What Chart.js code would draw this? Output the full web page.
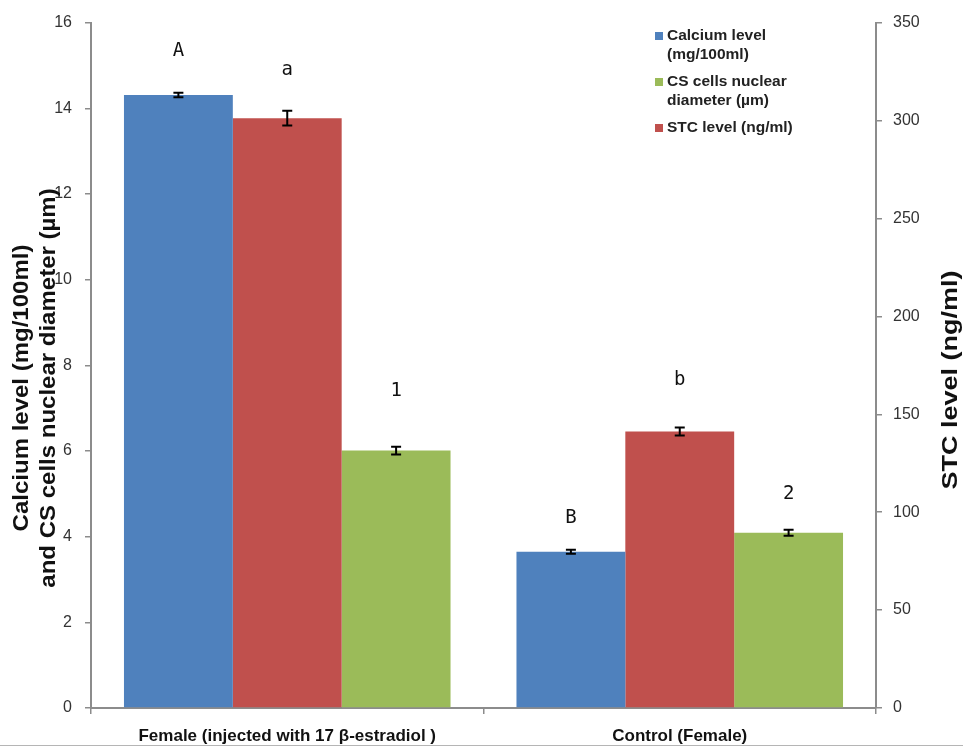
<!DOCTYPE html>
<html>
<head>
<meta charset="utf-8">
<script src="https://cdn.jsdelivr.net/npm/chart.js@4.4.1/dist/chart.umd.min.js"></script>
<style>
  html, body { margin: 0; padding: 0; background: #fff; }
  #wrap { position: relative; width: 963px; height: 748px; }
  #frame { position: absolute; left: 0; top: 745px; width: 963px; height: 1px; background: #b5b5b5; }
</style>
</head>
<body>
<div id="wrap">
  <canvas id="chart" width="963" height="748"></canvas>
  <div id="frame"></div>
</div>
<script>
// データ
const groups = ['Female (injected with 17 β-estradiol )', 'Control (Female)'];
const calcium = [14.31, 3.65];       // mg/100ml
const calciumErr = [0.05, 0.04];
const stc = [301.2, 141.2];          // ng/ml (右軸)
const stcErr = [3.8, 2.0];
const nuclear = [6.01, 4.09];        // µm
const nuclearErr = [0.09, 0.07];
const calciumLetters = ['A', 'B'];
const stcLetters = ['a', 'b'];
const nuclearLetters = ['1', '2'];

const BLUE = '#4F81BD';
const RED = '#C0504D';
const GREEN = '#9BBB59';
const AXIS = '#8c8c8c';
const SANS = '"Liberation Sans", Arial, sans-serif';

// エラーバー
const errorBars = {
  id: 'errorBars',
  afterDatasetsDraw(chart) {
    const ctx = chart.ctx;
    ctx.save();
    ctx.strokeStyle = '#000';
    ctx.lineWidth = 2;
    chart.data.datasets.forEach((ds, i) => {
      const meta = chart.getDatasetMeta(i);
      const scale = chart.scales[meta.yAxisID];
      meta.data.forEach((bar, j) => {
        const v = ds.data[j], e = ds.errors[j];
        const yTop = Math.min(scale.getPixelForValue(v + e), bar.y - 2);
        const yBot = Math.max(scale.getPixelForValue(v - e), bar.y + 2);
        ctx.beginPath();
        ctx.moveTo(bar.x, yTop); ctx.lineTo(bar.x, yBot);
        ctx.moveTo(bar.x - 5, yTop); ctx.lineTo(bar.x + 5, yTop);
        ctx.moveTo(bar.x - 5, yBot); ctx.lineTo(bar.x + 5, yBot);
        ctx.stroke();
      });
    });
    ctx.restore();
  }
};

// 有意差の文字
const letters = {
  id: 'letters',
  afterDatasetsDraw(chart) {
    const ctx = chart.ctx;
    ctx.save();
    ctx.font = '19px "DejaVu Sans Mono"';
    ctx.fillStyle = '#111';
    ctx.textAlign = 'center';
    ctx.textBaseline = 'middle';
    chart.data.datasets.forEach((ds, i) => {
      const meta = chart.getDatasetMeta(i);
      meta.data.forEach((bar, j) => {
        ctx.fillText(ds.letters[j], bar.x, bar.y - ds.letterGap[j]);
      });
    });
    ctx.restore();
  }
};

// 凡例（順番：カルシウム、核径、STC）
const sideLegend = {
  id: 'sideLegend',
  afterDraw(chart) {
    const ctx = chart.ctx;
    const items = [
      { ds: 0, lines: ['Calcium level', '(mg/100ml)'] },
      { ds: 2, lines: ['CS cells nuclear', 'diameter (µm)'] },
      { ds: 1, lines: ['STC level (ng/ml)'] }
    ];
    ctx.save();
    ctx.font = 'bold 15.5px ' + SANS;
    ctx.textBaseline = 'middle';
    let y = 36;
    items.forEach(it => {
      ctx.fillStyle = chart.data.datasets[it.ds].backgroundColor;
      ctx.fillRect(655, y - 4, 8, 8);
      ctx.fillStyle = '#222';
      it.lines.forEach((t, k) => {
        ctx.fillText(t, 667, y + k * 19);
      });
      y += it.lines.length * 19 + 8;
    });
    ctx.restore();
  }
};

// 軸タイトル
const axisTitles = {
  id: 'axisTitles',
  afterDraw(chart) {
    const ctx = chart.ctx;
    ctx.save();
    ctx.font = 'bold 24px ' + SANS;
    ctx.fillStyle = '#111';
    ctx.textAlign = 'center';
    ctx.textBaseline = 'middle';
    ctx.translate(22, 388);
    ctx.scale(0.9, 1);
    ctx.rotate(-Math.PI / 2);
    ctx.fillText('Calcium level (mg/100ml)', 0, 0);
    ctx.fillText('and CS cells nuclear diameter (µm)', 0, 30);
    ctx.restore();

    ctx.save();
    ctx.font = 'bold 27px ' + SANS;
    ctx.fillStyle = '#111';
    ctx.textAlign = 'center';
    ctx.textBaseline = 'middle';
    ctx.translate(951, 380);
    ctx.scale(0.85, 1);
    ctx.rotate(-Math.PI / 2);
    ctx.fillText('STC level (ng/ml)', 0, 0);
    ctx.restore();
  }
};

const ctx = document.getElementById('chart').getContext('2d');
const chart = new Chart(ctx, {
  type: 'bar',
  data: {
    labels: groups,
    datasets: [
      {
        label: 'Calcium level (mg/100ml)',
        data: calcium, errors: calciumErr, letters: calciumLetters, letterGap: [44, 34],
        backgroundColor: BLUE, yAxisID: 'y'
      },
      {
        label: 'STC level (ng/ml)',
        data: stc, errors: stcErr, letters: stcLetters, letterGap: [48, 51],
        backgroundColor: RED, yAxisID: 'y2'
      },
      {
        label: 'CS cells nuclear diameter (µm)',
        data: nuclear, errors: nuclearErr, letters: nuclearLetters, letterGap: [59, 39],
        backgroundColor: GREEN, yAxisID: 'y'
      }
    ]
  },
  options: {
    responsive: false,
    animation: false,
    layout: { padding: { top: 19, left: 0, right: 0, bottom: 0 } },
    datasets: {
      bar: { categoryPercentage: 0.832, barPercentage: 1.0 }
    },
    plugins: {
      legend: { display: false },
      tooltip: { enabled: false }
    },
    scales: {
      x: {
        grid: { drawOnChartArea: false, color: AXIS, tickLength: 6, lineWidth: 1.5 },
        border: { color: AXIS, width: 2 },
        ticks: {
          padding: 12,
          color: '#111',
          font: { family: SANS, size: 17, weight: 'bold' }
        },
        afterFit: s => { s.height = 40; }
      },
      y: {
        position: 'left',
        min: 0, max: 16,
        ticks: {
          stepSize: 2, padding: 13, color: '#333',
          font: { family: SANS, size: 16 }
        },
        grid: { drawOnChartArea: false, color: AXIS, tickLength: 6, lineWidth: 1.5 },
        border: { color: AXIS, width: 2 },
        afterFit: s => { s.width = 91; }
      },
      y2: {
        position: 'right',
        min: 0, max: 350,
        ticks: {
          stepSize: 50, padding: 11, color: '#333',
          font: { family: SANS, size: 16 }
        },
        grid: { drawOnChartArea: false, color: AXIS, tickLength: 6, lineWidth: 1.5 },
        border: { color: AXIS, width: 2 },
        afterFit: s => { s.width = 87; }
      }
    }
  },
  plugins: [errorBars, letters, sideLegend, axisTitles]
});
</script>
</body>
</html>
